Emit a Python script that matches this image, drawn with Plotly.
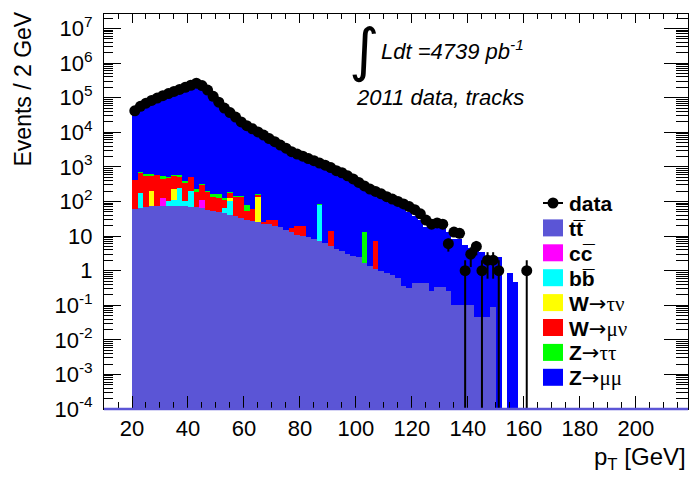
import math
import plotly.graph_objects as go

# ---------------- data (2 GeV bins, centres 21 ... 161 GeV) ----------------
bin_centres = list(range(21, 162, 2))

data_counts = [41700, 56200, 69200, 83200, 97700, 114800, 131800, 151400, 173800, 199500,
               229100, 263000, 223900, 166000, 109600, 74100, 50100, 37150, 27540, 19950,
               15490, 12590, 10230, 8318, 6607, 5370, 4266, 3467, 2754, 2344,
               2042, 1738, 1514, 1288, 1122, 955, 776, 676, 550, 447,
               355, 282, 229, 195, 166, 138, 117, 100, 85, 71,
               58, 44, 29, 22, 24, 22, 6, 13, 12, 1,
               3, 5, 1, 2, 2, 1, 0, 0, 0, 0, 1]

ttbar = [59, 63, 68, 72, 74, 75, 76, 76, 75, 73,
         71, 67, 63, 58, 54, 50, 46, 42, 37, 33,
         30, 27, 25, 23, 22, 20, 18, 15, 13, 11,
         10, 9.2, 8.0, 7.0, 6.3, 5.3, 4.3, 3.8, 3.0, 2.6,
         2.5, 1.7, 1.4, 1.1, 1.0, 0.85, 0.75, 0.6, 0.35, 0.31,
         0.43, 0.43, 0.43, 0.25, 0.34, 0.34, 0.25, 0.1, 0.1, 0.1,
         0.1, 0.045, 0.045, 0.045, 0.09, 0, 0, 0, 0, 0, 0]

ccbar_nonzero = {31: 48, 45: 47}
bbbar_nonzero = {23: 116, 33: 29, 35: 34, 37: 165, 39: 27, 41: 130, 53: 20, 55: 62, 87: 73}
w_taunu_nonzero = {27: 128, 35: 119, 55: 24, 65: 113}
w_munu_nonzero = {21: 358, 23: 497, 25: 507, 27: 375, 29: 501, 31: 345, 33: 395, 35: 346,
                  37: 300, 39: 250, 41: 309, 43: 133, 45: 206, 47: 142, 49: 84, 51: 75,
                  53: 49, 55: 55, 57: 101, 59: 105, 61: 24, 63: 33, 65: 22, 67: 3,
                  69: 8, 71: 10, 77: 3.6, 79: 8.5, 81: 9.5, 87: 3, 91: 8.3, 107: 6}
z_tautau_nonzero = {23: 32, 25: 30, 27: 28, 31: 60, 33: 20, 35: 15, 37: 30, 39: 40,
                    41: 15, 43: 25, 45: 10, 47: 5, 49: 32, 51: 40, 53: 11, 55: 7,
                    57: 7, 59: 7, 61: 26, 65: 10, 87: 1, 103: 11.5}

z_mumu = [36300, 48900, 60200, 72400, 85000, 99900, 114700, 131700, 151200, 173600,
          199300, 228800, 194800, 144400, 95400, 64500, 43600, 32300, 24000, 17400,
          13500, 10950, 8900, 7240, 5750, 4670, 3710, 3020, 2400, 2040,
          1780, 1510, 1320, 1040, 976, 820, 675, 588, 479, 389,
          309, 230, 199, 165, 144, 120, 100, 80, 60, 48,
          38, 28, 17.5, 17.5, 17.5, 17.5, 12.7, 8.3, 8.3, 5.4,
          4.4, 4.0, 3.4, 2.5, 2.5, 2.5, 0, 0.83, 0.48, 0, 0]

y_tick_labels = ["10<sup>-4</sup>", "10<sup>-3</sup>", "10<sup>-2</sup>", "10<sup>-1</sup>",
                 "1", "10", "10<sup>2</sup>", "10<sup>3</sup>", "10<sup>4</sup>",
                 "10<sup>5</sup>", "10<sup>6</sup>", "10<sup>7</sup>"]


def expand(d):
    return [d.get(c, 0) for c in bin_centres]


ccbar = expand(ccbar_nonzero)
bbbar = expand(bbbar_nonzero)
w_taunu = expand(w_taunu_nonzero)
w_munu = expand(w_munu_nonzero)
z_tautau = expand(z_tautau_nonzero)

PURPLE = "#5b55d6"
stack = [
    ("tt", ttbar, PURPLE),
    ("cc", ccbar, "#ff00ff"),
    ("bb", bbbar, "#00ffff"),
    ("Wtaunu", w_taunu, "#ffff00"),
    ("Wmunu", w_munu, "#ff0000"),
    ("Ztautau", z_tautau, "#00ff00"),
    ("Zmumu", z_mumu, "#0000ff"),
]

fig = go.Figure()
for name, vals, col in stack:
    fig.add_trace(go.Bar(x=bin_centres, y=vals, width=2, name=name,
                         marker=dict(color=col, line=dict(width=0)),
                         hoverinfo="skip"))

dx, dy, elo, ehi = [], [], [], []
for c, n in zip(bin_centres, data_counts):
    if n > 0:
        dx.append(c)
        dy.append(n)
        e = math.sqrt(n)
        ehi.append(e)
        elo.append(e)

fig.add_trace(go.Scatter(x=dx, y=dy, mode="markers",
                         marker=dict(color="black", size=11, symbol="circle"),
                         error_y=dict(type="data", array=ehi, arrayminus=elo,
                                      color="black", thickness=2, width=0),
                         hoverinfo="skip"))

# dummy trace so the mirrored (top/right) axes are drawn
fig.add_trace(go.Scatter(x=[100], y=[1], xaxis="x2", yaxis="y2", mode="markers",
                         marker=dict(opacity=0), hoverinfo="skip"))

XR = [10, 218.6]
YR = [-4, 7.42]
y_major = [10.0 ** k for k in range(-4, 8)]
y_minor = [m * 10.0 ** k for k in range(-4, 8) for m in range(2, 10)]

FONT = "Liberation Sans, Arial, Helvetica, sans-serif"

fig.update_layout(
    width=694, height=477,
    margin=dict(l=104, r=6, t=14, b=68, pad=0),
    paper_bgcolor="white", plot_bgcolor="white",
    barmode="stack", bargap=0,
    showlegend=False,
    font=dict(family=FONT, size=22, color="black"),
    xaxis=dict(range=XR, tick0=0, dtick=20, ticks="inside", ticklen=13, tickwidth=1,
               tickcolor="black", showline=True, linecolor="black", linewidth=1,
               showgrid=False, zeroline=False, tickfont=dict(size=22),
               minor=dict(dtick=5, tick0=0, ticks="inside", ticklen=7, tickcolor="black",
                          showgrid=False),
               automargin=False),
    xaxis2=dict(range=XR, overlaying="x", side="top", tick0=0, dtick=20, ticks="inside",
                ticklen=9, tickcolor="black", showline=True, linecolor="black",
                showticklabels=False, showgrid=False, zeroline=False,
                minor=dict(dtick=5, tick0=0, ticks="inside", ticklen=5, tickcolor="black",
                           showgrid=False)),
    yaxis=dict(type="log", range=YR, tickmode="array", tickvals=y_major,
               ticktext=y_tick_labels, ticks="inside", ticklen=17, tickcolor="black",
               showline=True, linecolor="black", linewidth=1, showgrid=False,
               zeroline=False, tickfont=dict(size=22), ticklabelstandoff=6,
               minor=dict(tickmode="array", tickvals=y_minor, ticks="inside", ticklen=9,
                          tickcolor="black", showgrid=False),
               automargin=False),
    yaxis2=dict(type="log", range=YR, overlaying="y", side="right", tickmode="array",
                tickvals=y_major, ticks="inside", ticklen=24, tickcolor="black",
                showline=True, linecolor="black", showticklabels=False, showgrid=False,
                zeroline=False,
                minor=dict(tickmode="array", tickvals=y_minor, ticks="inside", ticklen=12,
                           tickcolor="black", showgrid=False)),
)


# ---------------- helpers: pixel -> paper ----------------
def px(xp):
    return (xp - 104) / 584.0


def py(yp):
    return (409 - yp) / 395.0


shapes = []
annotations = []

# purple bottom line of the histogram
shapes.append(dict(type="line", xref="paper", yref="paper", x0=0, x1=1, y0=0, y1=0,
                   line=dict(color=PURPLE, width=2.5), layer="above"))

# axis titles
annotations.append(dict(text="Events / 2 GeV", xref="paper", yref="paper",
                        x=px(23), y=py(10), textangle=-90, xanchor="center",
                        yanchor="top", showarrow=False, font=dict(size=23)))
annotations.append(dict(text="p<sub>T</sub> [GeV]", xref="paper", yref="paper",
                        x=1.0, y=py(458), xanchor="right", yanchor="middle",
                        showarrow=False, font=dict(size=24)))

# luminosity text
annotations.append(dict(text="∫", xref="paper", yref="paper", x=px(364), y=py(50),
                        xanchor="center", yanchor="middle", showarrow=False,
                        font=dict(family="DejaVu Sans", size=58)))
annotations.append(dict(text="<i>Ldt =4739 pb<sup>-1</sup></i>", xref="paper", yref="paper",
                        x=px(379), y=py(50), xanchor="left", yanchor="middle",
                        showarrow=False, font=dict(size=22)))
annotations.append(dict(text="<i>2011 data, tracks</i>", xref="paper", yref="paper",
                        x=px(354), y=py(97), xanchor="left", yanchor="middle",
                        showarrow=False, font=dict(size=22)))

# legend (drawn by hand, ROOT style)
ARROW = "<span style='font-family:DejaVu Sans;font-weight:normal'>→</span>"
GREEK = "<span style='font-family:Liberation Serif;font-weight:normal'>{}</span>"
legend_rows = [
    ("<b>tt\u0305</b>", PURPLE),
    ("<b>cc\u0305</b>", "#ff00ff"),
    ("<b>bb\u0305</b>", "#00ffff"),
    ("<b>W</b>" + ARROW + GREEK.format("τν"), "#ffff00"),
    ("<b>W</b>" + ARROW + GREEK.format("μν"), "#ff0000"),
    ("<b>Z</b>" + ARROW + GREEK.format("ττ"), "#00ff00"),
    ("<b>Z</b>" + ARROW + GREEK.format("μμ"), "#0000ff"),
]
row0 = 203
step = 24.9
bx0, bx1 = 543, 563
# data entry
shapes.append(dict(type="line", xref="paper", yref="paper", x0=px(bx0), x1=px(bx1),
                   y0=py(row0), y1=py(row0), line=dict(color="black", width=2)))
shapes.append(dict(type="circle", xref="paper", yref="paper", x0=px(553 - 5.5), x1=px(553 + 5.5),
                   y0=py(row0 + 5.5), y1=py(row0 - 5.5), fillcolor="black",
                   line=dict(color="black", width=0)))
annotations.append(dict(text="<b>data</b>", xref="paper", yref="paper", x=px(567), y=py(row0),
                        xanchor="left", yanchor="middle", showarrow=False,
                        font=dict(size=21)))
for i, (label, col) in enumerate(legend_rows):
    yc = row0 + step * (i + 1)
    shapes.append(dict(type="rect", xref="paper", yref="paper", x0=px(bx0), x1=px(bx1),
                       y0=py(yc + 8.5), y1=py(yc - 8.5), fillcolor=col,
                       line=dict(width=0)))
    annotations.append(dict(text=label, xref="paper", yref="paper", x=px(567), y=py(yc + 1),
                            xanchor="left", yanchor="middle", showarrow=False,
                            font=dict(size=21)))

fig.update_layout(shapes=shapes, annotations=annotations)

fig.write_html("out.html", config={"displayModeBar": False})
